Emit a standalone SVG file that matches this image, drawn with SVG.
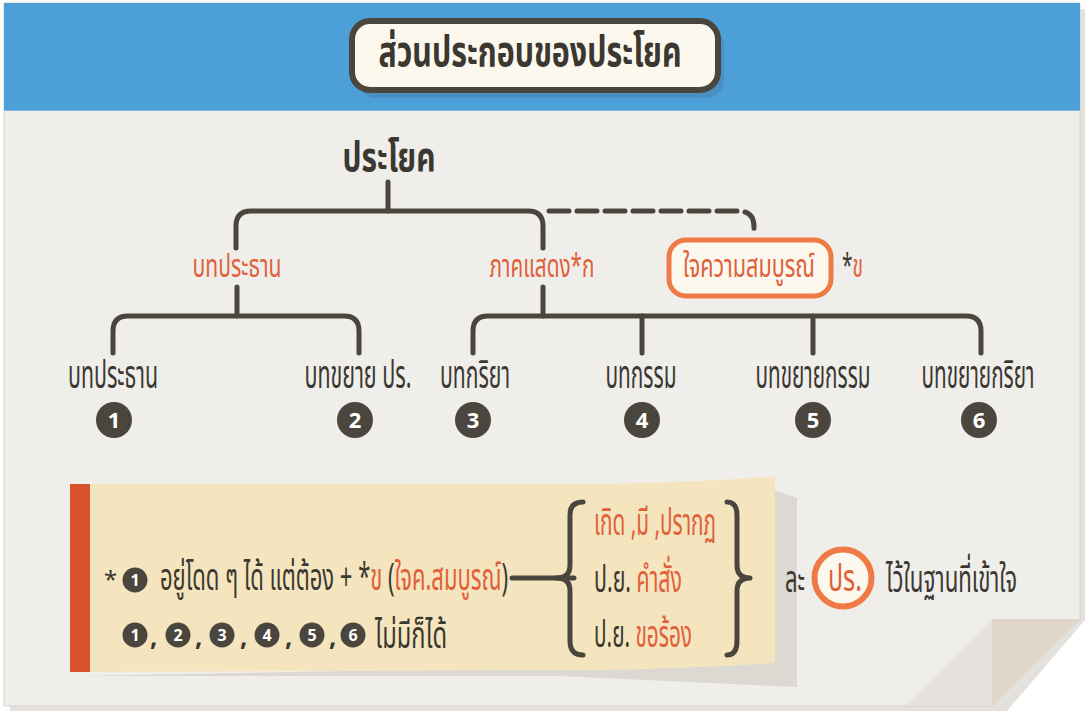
<svg xmlns="http://www.w3.org/2000/svg" width="1085" height="711" viewBox="0 0 1085 711">
<defs>
<style>
.t{font-family:"Noto Sans Thai","Noto Sans","Liberation Sans",sans-serif;}
.dk{fill:#3b3832;}
.or{fill:#e0603a;}
.mid{text-anchor:middle;}
.lbl{font-size:21px;}
.olbl{font-size:21px;}
.note{font-size:20.5px;}
.ln{fill:none;stroke:#4a463d;stroke-width:5;stroke-linecap:round;stroke-linejoin:round;}
.num{fill:#4a463d;}
.nt{font-family:"Open Sans","Liberation Sans",sans-serif;font-weight:700;fill:#ffffff;text-anchor:middle;}
</style>
</defs>
<rect width="1085" height="711" fill="#ffffff"/>
<polygon points="10,9 1085,9 1085,620 1007,711 10,711" fill="#e4e1dc"/>
<polygon points="4,3 1080,3 1080,619 992,706 4,706" fill="#efeeea" stroke="#d5d2cd" stroke-width="1"/>
<rect x="4" y="3" width="1076" height="107" fill="#4d9fd8"/>
<line x1="4" y1="110.5" x2="1080" y2="110.5" stroke="#7db9e3" stroke-width="1"/>
<polygon points="992,619 1079,619 992,706" fill="#e0d6c8"/>
<polygon points="992,619 992,706 905,706" fill="#e5e2dd"/>

<g id="title">
<rect x="358" y="28" width="366" height="70" rx="18" fill="#4a8fc2"/>
<rect x="352" y="21" width="366" height="69" rx="18" fill="#fdf8ee" stroke="#4a463d" stroke-width="6"/>
<text class="t dk mid" transform="translate(530 66) scale(1 1.55)" font-size="28" font-weight="700" textLength="303" lengthAdjust="spacingAndGlyphs">ส่วนประกอบของประโยค</text>
</g>

<g id="connectors">
<path class="ln" d="M388 182 V211"/>
<path class="ln" d="M236 248 V226 Q236 211 251 211 H528 Q543 211 543 226 V248"/>
<path class="ln" d="M549 211 H738 Q754 211 754 227 V232" stroke-dasharray="20 8" stroke-linecap="butt"/>
<path class="ln" d="M237 287 V316"/>
<path class="ln" d="M113 353 V331 Q113 316 128 316 H344 Q359 316 359 331 V353"/>
<path class="ln" d="M543 287 V316"/>
<path class="ln" d="M473 353 V331 Q473 316 488 316 H966 Q981 316 981 331 V353"/>
<path class="ln" d="M642 316 V353"/>
<path class="ln" d="M813 316 V353"/>
</g>

<g id="root">
<text class="t dk mid" transform="translate(389 171) scale(1 1.6)" font-size="26" font-weight="700" textLength="93" lengthAdjust="spacingAndGlyphs">ประโยค</text>
</g>
<g id="subject-part">
<text class="t or olbl mid" transform="translate(237 277) scale(1 1.55)" textLength="89" lengthAdjust="spacingAndGlyphs">บทประธาน</text>
</g>
<g id="predicate-part">
<text class="t or olbl mid" transform="translate(542 277) scale(1 1.55)" textLength="105" lengthAdjust="spacingAndGlyphs">ภาคแสดง*ก</text>
</g>
<g id="complement">
<rect x="669" y="240" width="162" height="56" rx="17" fill="#fdf8ee" stroke="#f07a45" stroke-width="5"/>
<text class="t or olbl mid" transform="translate(749 277) scale(1 1.55)" textLength="132" lengthAdjust="spacingAndGlyphs">ใจความสมบูรณ์</text>
<text class="t dk olbl" transform="translate(842 277) scale(1 1.55)" textLength="21" lengthAdjust="spacingAndGlyphs">*<tspan class="or">ข</tspan></text>
</g>

<g id="n1">
<text class="t dk lbl mid" transform="translate(113 388) scale(1 1.9)" textLength="90" lengthAdjust="spacingAndGlyphs">บทประธาน</text>
<circle class="num" cx="114" cy="420" r="18"/><text class="nt" x="114" y="428" font-size="22">1</text>
</g>
<g id="n2">
<text class="t dk lbl mid" transform="translate(358 388) scale(1 1.9)" textLength="107" lengthAdjust="spacingAndGlyphs">บทขยาย ปร.</text>
<circle class="num" cx="355" cy="420" r="18"/><text class="nt" x="355" y="428" font-size="22">2</text>
</g>
<g id="n3">
<text class="t dk lbl mid" transform="translate(475 388) scale(1 1.9)" textLength="70" lengthAdjust="spacingAndGlyphs">บทกริยา</text>
<circle class="num" cx="473" cy="420" r="18"/><text class="nt" x="473" y="428" font-size="22">3</text>
</g>
<g id="n4">
<text class="t dk lbl mid" transform="translate(641 388) scale(1 1.9)" textLength="71" lengthAdjust="spacingAndGlyphs">บทกรรม</text>
<circle class="num" cx="642" cy="420" r="18"/><text class="nt" x="642" y="428" font-size="22">4</text>
</g>
<g id="n5">
<text class="t dk lbl mid" transform="translate(813 388) scale(1 1.9)" textLength="115" lengthAdjust="spacingAndGlyphs">บทขยายกรรม</text>
<circle class="num" cx="813" cy="420" r="18"/><text class="nt" x="813" y="428" font-size="22">5</text>
</g>
<g id="n6">
<text class="t dk lbl mid" transform="translate(978 388) scale(1 1.9)" textLength="113" lengthAdjust="spacingAndGlyphs">บทขยายกริยา</text>
<circle class="num" cx="979" cy="420" r="18"/><text class="nt" x="979" y="428" font-size="22">6</text>
</g>

<g id="note">
<polygon points="75,676 560,676 797,687 797,498 775,490 775,663" fill="#dcd8d2"/>
<path d="M90 484 L600 484 Q720 482 775 476 L775 663 Q700 668 600 670 L90 672 Z" fill="#f5e5be"/>
<rect x="70" y="484" width="20" height="188" fill="#d9522b"/>
<text class="t dk" x="104" y="588" font-size="24">*</text>
<circle class="num" cx="135" cy="580" r="12.5"/><text class="nt" x="135" y="586" font-size="16">1</text>
<text class="t dk note" transform="translate(160 590) scale(1 1.85)" textLength="348" lengthAdjust="spacingAndGlyphs">อยู่โดด ๆ ได้ แต่ต้อง + *<tspan class="or">ข</tspan> (<tspan class="or">ใจค.สมบูรณ์</tspan>)</text>
<circle class="num" cx="135" cy="635" r="12.5"/><text class="nt" x="135" y="641" font-size="16">1</text>
<circle class="num" cx="178" cy="635" r="12.5"/><text class="nt" x="178" y="641" font-size="16">2</text>
<circle class="num" cx="222" cy="635" r="12.5"/><text class="nt" x="222" y="641" font-size="16">3</text>
<circle class="num" cx="267" cy="635" r="12.5"/><text class="nt" x="267" y="641" font-size="16">4</text>
<circle class="num" cx="312" cy="635" r="12.5"/><text class="nt" x="312" y="641" font-size="16">5</text>
<circle class="num" cx="353" cy="635" r="12.5"/><text class="nt" x="353" y="641" font-size="16">6</text>
<g class="t dk" font-size="26" font-weight="700">
<text x="150" y="646">,</text><text x="195" y="646">,</text><text x="240" y="646">,</text><text x="285" y="646">,</text><text x="329" y="646">,</text>
</g>
<text class="t dk note" transform="translate(375 648) scale(1 1.85)" textLength="72" lengthAdjust="spacingAndGlyphs">ไม่มีก็ได้</text>
<path class="ln" d="M512 578 H574"/>
<path class="ln" d="M583 502 Q570 502 570 515 L570 565 Q570 578 557 578 Q570 578 570 591 L570 641 Q570 655 583 655"/>
<path class="ln" d="M727 502 Q737 502 737 515 L737 565 Q737 578 750 578 Q737 578 737 591 L737 641 Q737 655 727 655"/>
<text class="t or note" transform="translate(594 535) scale(1 1.85)" textLength="122" lengthAdjust="spacingAndGlyphs">เกิด ,มี ,ปรากฏ</text>
<text class="t dk note" transform="translate(594 592) scale(1 1.85)" textLength="88" lengthAdjust="spacingAndGlyphs">ป.ย. <tspan class="or">คำสั่ง</tspan></text>
<text class="t dk note" transform="translate(594 647) scale(1 1.85)" textLength="98" lengthAdjust="spacingAndGlyphs">ป.ย. <tspan class="or">ขอร้อง</tspan></text>
</g>
<g id="omit">
<text class="t dk note" transform="translate(785 592) scale(1 1.85)" textLength="20" lengthAdjust="spacingAndGlyphs">ละ</text>
<circle cx="843" cy="578" r="28.5" fill="#fdf8ee" stroke="#f07a45" stroke-width="6"/>
<text class="t or note mid" transform="translate(845 591) scale(1 1.85)" textLength="34" lengthAdjust="spacingAndGlyphs">ปร.</text>
<text class="t dk note" transform="translate(886 592) scale(1 1.85)" textLength="131" lengthAdjust="spacingAndGlyphs">ไว้ในฐานที่เข้าใจ</text>
</g>
</svg>
